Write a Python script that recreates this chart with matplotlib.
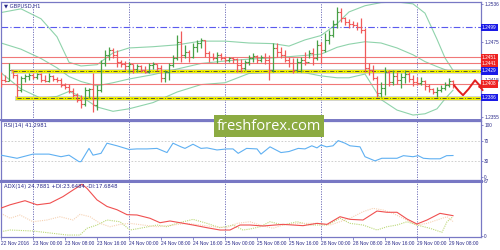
import matplotlib
matplotlib.use('Agg')
import matplotlib.pyplot as plt
from matplotlib.patches import Rectangle

# GBPUSD H1 bars, 22 Nov 2016 16:00 .. 29 Nov 2016 09:00 (open = previous close)
first_open = 1.2424
close = [1.2414, 1.2413, 1.2430, 1.2422, 1.2398, 1.2418, 1.2421, 1.2422, 1.2419, 1.2424,
         1.2414, 1.2413, 1.2421, 1.2416, 1.2414, 1.2406, 1.2403, 1.2397, 1.2390, 1.2382,
         1.2376, 1.2398, 1.2400, 1.2374, 1.2398, 1.2442, 1.2455, 1.2463, 1.2455, 1.2443,
         1.2440, 1.2437, 1.2440, 1.2432, 1.2437, 1.2430, 1.2427, 1.2439, 1.2440, 1.2434,
         1.2418, 1.2427, 1.2439, 1.2450, 1.2476, 1.2455, 1.2460, 1.2451, 1.2468, 1.2474,
         1.2479, 1.2458, 1.2451, 1.2450, 1.2455, 1.2450, 1.2447, 1.2450, 1.2448, 1.2439,
         1.2434, 1.2443, 1.2450, 1.2453, 1.2447, 1.2451, 1.2447, 1.2430, 1.2466, 1.2460,
         1.2455, 1.2447, 1.2442, 1.2430, 1.2443, 1.2447, 1.2443, 1.2458, 1.2450, 1.2471,
         1.2463, 1.2479, 1.2487, 1.2505, 1.2524, 1.2515, 1.2508, 1.2505, 1.2503, 1.2500,
         1.2495, 1.2434, 1.2430, 1.2418, 1.2393, 1.2401, 1.2427, 1.2411, 1.2421, 1.2414,
         1.2419, 1.2424, 1.2416, 1.2411, 1.2410, 1.2413, 1.2405, 1.2400, 1.2395, 1.2398,
         1.2401, 1.2406, 1.2413, 1.2408]
high = [1.2427, 1.2422, 1.2442, 1.2429, 1.2424, 1.2421, 1.2424, 1.2426, 1.2426, 1.2426,
        1.2426, 1.2422, 1.2426, 1.2422, 1.2419, 1.2418, 1.2410, 1.2408, 1.2401, 1.2393,
        1.2390, 1.2403, 1.2401, 1.2426, 1.2406, 1.2447, 1.2463, 1.2468, 1.2466, 1.2463,
        1.2447, 1.2445, 1.2443, 1.2440, 1.2440, 1.2439, 1.2437, 1.2442, 1.2443, 1.2440,
        1.2439, 1.2430, 1.2442, 1.2455, 1.2487, 1.2494, 1.2471, 1.2463, 1.2474, 1.2479,
        1.2482, 1.2479, 1.2461, 1.2458, 1.2460, 1.2458, 1.2453, 1.2451, 1.2451, 1.2450,
        1.2448, 1.2447, 1.2455, 1.2458, 1.2455, 1.2455, 1.2458, 1.2455, 1.2474, 1.2474,
        1.2468, 1.2463, 1.2451, 1.2450, 1.2450, 1.2451, 1.2460, 1.2463, 1.2466, 1.2479,
        1.2476, 1.2490, 1.2495, 1.2511, 1.2532, 1.2531, 1.2516, 1.2513, 1.2510, 1.2508,
        1.2515, 1.2498, 1.2442, 1.2439, 1.2421, 1.2411, 1.2435, 1.2430, 1.2430, 1.2427,
        1.2426, 1.2430, 1.2427, 1.2422, 1.2419, 1.2419, 1.2414, 1.2408, 1.2401, 1.2403,
        1.2406, 1.2411, 1.2418, 1.2414]
low = [1.2403, 1.2411, 1.2413, 1.2418, 1.2387, 1.2395, 1.2411, 1.2414, 1.2416, 1.2416,
       1.2411, 1.2411, 1.2411, 1.2413, 1.2411, 1.2403, 1.2400, 1.2393, 1.2387, 1.2379,
       1.2369, 1.2372, 1.2385, 1.2363, 1.2366, 1.2395, 1.2437, 1.2447, 1.2450, 1.2435,
       1.2435, 1.2430, 1.2426, 1.2426, 1.2427, 1.2427, 1.2426, 1.2426, 1.2432, 1.2429,
       1.2411, 1.2411, 1.2414, 1.2435, 1.2447, 1.2443, 1.2450, 1.2443, 1.2450, 1.2460,
       1.2466, 1.2451, 1.2443, 1.2447, 1.2442, 1.2447, 1.2443, 1.2443, 1.2442, 1.2427,
       1.2427, 1.2430, 1.2439, 1.2443, 1.2442, 1.2443, 1.2440, 1.2414, 1.2427, 1.2451,
       1.2450, 1.2443, 1.2435, 1.2426, 1.2427, 1.2427, 1.2439, 1.2450, 1.2439, 1.2447,
       1.2442, 1.2460, 1.2473, 1.2484, 1.2498, 1.2508, 1.2503, 1.2498, 1.2500, 1.2495,
       1.2490, 1.2427, 1.2422, 1.2414, 1.2387, 1.2387, 1.2390, 1.2405, 1.2406, 1.2408,
       1.2401, 1.2410, 1.2411, 1.2405, 1.2406, 1.2406, 1.2398, 1.2395, 1.2392, 1.2387,
       1.2395, 1.2398, 1.2403, 1.2401]

# Bollinger bands read at these bars
bb_bars = [0, 5, 10, 14, 17, 20, 24, 28, 32, 38, 44, 50, 56, 62, 68, 72, 76, 80, 84, 87,
           91, 95, 99, 103, 106, 109, 111, 113]
bb_upper = [1.2523, 1.2529, 1.2513, 1.2484, 1.2443, 1.2437, 1.2439, 1.2458, 1.2466, 1.2468,
            1.2471, 1.2477, 1.2477, 1.2474, 1.2473, 1.2469, 1.2479, 1.2486, 1.2505, 1.2524,
            1.2534, 1.2539, 1.2540, 1.2537, 1.2522, 1.2480, 1.2450, 1.2430]
bb_middle = [1.2474, 1.2464, 1.2449, 1.2434, 1.2420, 1.2412, 1.2405, 1.2410, 1.2416, 1.2423,
             1.2432, 1.2441, 1.2445, 1.2448, 1.2450, 1.2452, 1.2454, 1.2456, 1.2467, 1.2472,
             1.2476, 1.2474, 1.2466, 1.2455, 1.2444, 1.2436, 1.2431, 1.2427]
bb_lower = [1.2426, 1.2400, 1.2385, 1.2388, 1.2396, 1.2388, 1.2371, 1.2364, 1.2368, 1.2378,
            1.2395, 1.2407, 1.2410, 1.2425, 1.2427, 1.2427, 1.2426, 1.2421, 1.2418, 1.2418,
            1.2424, 1.2383, 1.2366, 1.2358, 1.2360, 1.2368, 1.2384, 1.2398]

# horizontal levels
blue_level = 1.2499
red_levels = [1.2451, 1.2441, 1.2408]
yellow_levels = [1.2429, 1.2386]
yellow_start = [3, 4]

# forecast sketch
fc_bars = [113.25, 114.4, 115.5, 116.9, 118.5, 119.5, 120.4]
fc_price = [1.2406, 1.2397, 1.2390, 1.2400, 1.2414, 1.2407, 1.2398]

# RSI(14)
rsi_bars = [0, 4, 8, 12, 15, 17, 19.5, 20, 22, 23, 25, 26.5, 29, 32, 34, 36.5, 39, 41.5, 43, 45,
            46, 48, 50, 51.5, 54, 56.5, 58, 59.3, 61.4, 64, 65, 67.25, 70, 72, 74.3, 76, 77.7,
            79, 80, 81.4, 83, 84.3, 86, 87.25, 89.75, 91, 93.5, 95.2, 99, 100.6, 103, 104.3,
            105.6, 107.25, 109.75, 111.4, 113]
rsi_vals = [42, 36, 44, 44, 39, 42, 29.5, 29.5, 55, 42, 45.5, 65, 60, 53, 54, 54, 55, 47, 65, 58,
            55, 63, 55, 56, 52, 54, 54, 45.5, 55, 54, 44, 58, 47, 49, 55, 54, 60, 56, 61.5, 58,
            60, 70, 65, 60, 58, 39, 31, 36, 36, 41, 39, 41, 36, 35, 35, 41, 41.3]

# ADX(14), +DI, -DI
adx_bars = [0, 2.25, 6, 9, 12.25, 15.5, 18, 20.25, 21.5, 24, 26.5, 29, 31.5, 34, 37.25, 39.75,
            42.25, 44.75, 48, 51.5, 54.75, 57.25, 59.75, 62.25, 65.5, 70.5, 75.5, 79, 81.5,
            84.75, 87.25, 90.5, 94, 96.5, 99, 101.5, 104, 106.5, 109.75, 113]
adx_vals = [34, 38, 43, 38, 40, 48, 56, 63, 58, 44, 36, 32, 26, 25.6, 21.6, 16.2, 18.3, 16.2,
            13.4, 10.1, 7.3, 7.3, 13.4, 13.4, 12.2, 14.2, 12.6, 15.4, 14.2, 23.5, 20.3, 19.5,
            30.4, 28.9, 28.9, 20.7, 14.6, 19.5, 27.6, 24.8]
pdi_bars = [0, 2.25, 8, 12.25, 16.5, 19.75, 21.5, 24, 26.5, 29.75, 32.25, 34.75, 39, 41.5, 44,
            48, 51.5, 54.75, 58, 60.5, 62.25, 64.75, 67.25, 70.5, 74, 77.25, 81.5, 84.75, 87.25,
            90.5, 94, 96.5, 99, 101.5, 104, 107.25, 110.25, 111.5, 113]
pdi_vals = [5.3, 7.3, 6.1, 3.7, 1.2, 1.2, 9.4, 13.4, 19.5, 17.4, 7.3, 9.4, 13.4, 11.3, 15.4,
            20.3, 15.4, 10.1, 13.4, 7.3, 8.5, 11.3, 17.4, 13.4, 17.4, 13.4, 13.4, 21.6, 15.4,
            13.4, 7.3, 11.3, 13.4, 17.4, 13.4, 9.4, 4.5, 17.4, 23.6]
mdi_bars = [0, 2.25, 4.75, 8, 11.5, 14.75, 18, 19.75, 22.25, 24.75, 27.25, 29.75, 32.25, 35.5,
            39, 43, 46.5, 49.75, 53, 56.5, 59, 62.25, 64.75, 68, 70.5, 74.75, 79, 82.25, 84.75,
            87.25, 90.5, 93, 95.5, 98, 100.5, 104, 106.5, 109, 111.5, 113]
mdi_vals = [27.6, 21.6, 25.6, 17.4, 19.5, 23.5, 19.5, 26.4, 23.5, 15.4, 11.3, 14.2, 15.4, 13.4,
            11.3, 13.4, 15.4, 13.4, 11.3, 10.1, 15.4, 17.4, 13.4, 9.4, 13.4, 15.4, 15.4, 13.4,
            17.4, 21.6, 29.6, 33.7, 31.7, 27.6, 21.6, 13.4, 15.4, 19.5, 23.5, 17.7]

time_labels = ['22 Nov 2016', '23 Nov 00:00', '23 Nov 08:00', '23 Nov 16:00', '24 Nov 00:00',
               '24 Nov 08:00', '24 Nov 16:00', '25 Nov 00:00', '25 Nov 08:00', '25 Nov 16:00',
               '28 Nov 00:00', '28 Nov 08:00', '28 Nov 16:00', '29 Nov 00:00', '29 Nov 08:00']
day_starts = [8, 32, 56, 80, 104]
# right-hand price scale; 1.2505, 1.2445 and 1.2385 sit under the level tags
price_ticks = [1.2355, 1.2385, 1.2415, 1.2445, 1.2475, 1.2505, 1.2536]
hidden_ticks = [1.2385, 1.2445, 1.2505]

edge = '#7878c4'
txt = '#2a2a8a'
up_col = '#47a047'
down_col = '#f05a5a'
small = 'Liberation Sans'

plt.rcParams['font.family'] = 'DejaVu Sans'
fig = plt.figure(figsize=(5, 2.5), dpi=100)
W, H = 500, 250


def frame(x0, y0, x1, y1):
    return [x0 / W, 1 - y1 / H, (x1 - x0) / W, (y1 - y0) / H]


ax = fig.add_axes(frame(1, 2, 481, 120))
ax_rsi = fig.add_axes(frame(1, 121, 481, 180), sharex=ax)
ax_adx = fig.add_axes(frame(1, 181, 481, 237), sharex=ax)
ax.set_xlim(0, 120)

for a in (ax, ax_rsi, ax_adx):
    for s in a.spines.values():
        s.set_color(edge)
        s.set_linewidth(0.9)
    a.yaxis.tick_right()
    a.tick_params(axis='y', labelsize=3.4, labelcolor=txt, color=edge, length=1.5, width=0.6,
                  pad=0.8, labelfontfamily=small)
    a.tick_params(axis='x', bottom=False, labelbottom=False)
    for d in day_starts:
        a.axvline(d, color='#6464b4', lw=0.6, ls=(0, (1.5, 1.5)), zorder=1)
ax.spines['bottom'].set_linewidth(1.4)
ax_adx.spines['top'].set_linewidth(2.2)

# ---- main panel
ax.set_ylim(1.2350, 1.2540)
ax.set_yticks(price_ticks)
ax.set_yticklabels(['' if p in hidden_ticks else f'{p:.4f}' for p in price_ticks])

ax.plot(bb_bars, bb_upper, color='#8fd3ab', lw=0.8, zorder=2)
ax.plot(bb_bars, bb_middle, color='#8fd3ab', lw=0.8, zorder=2)
ax.plot(bb_bars, bb_lower, color='#8fd3ab', lw=0.8, zorder=2)

ax.axhline(blue_level, color='#5a5aee', lw=0.8, ls=(0, (6, 2, 1, 2)), zorder=2)
for lv in red_levels:
    ax.axhline(lv, color='#f07878', lw=0.8, zorder=2)
for lv, st in zip(yellow_levels, yellow_start):
    ax.plot([st, 120], [lv, lv], color='#a0a0a0', lw=3.6, alpha=0.45, zorder=2)
    ax.plot([st, 120], [lv, lv], color='#f2f200', lw=2.2, zorder=3)
    ax.plot([st, 120], [lv, lv], color='#404040', lw=0.6, ls=(0, (5, 2, 1, 2)), zorder=3)

opens = [first_open] + close[:-1]
for i in range(len(close)):
    o, c = opens[i], close[i]
    col = up_col if c > o else (down_col if c < o else '#303030')
    ax.vlines(i, low[i], high[i], color=col, lw=0.9, zorder=4)
    ax.hlines(o, i - 0.45, i, color=col, lw=0.8, zorder=4)
    ax.hlines(c, i, i + 0.45, color=col, lw=0.8, zorder=4)

ax.plot(fc_bars, fc_price, color='#e22020', lw=1.4, zorder=6, clip_on=False,
        solid_capstyle='round')
ax.annotate('', xy=(fc_bars[-1] + 0.3, fc_price[-1] - 0.0003),
            xytext=(fc_bars[-2], fc_price[-2]),
            arrowprops=dict(arrowstyle='-|>', color='#e22020', lw=1.0, mutation_scale=5),
            annotation_clip=False, zorder=6)


def price_tag(value, color):
    ax.text(1.002, value, f'{value:.4f}', transform=ax.get_yaxis_transform(), fontsize=3.4,
            family=small, color='white', va='center', ha='left', clip_on=False, zorder=5,
            bbox=dict(boxstyle='square,pad=0.25', fc=color, ec='none'))


price_tag(blue_level, '#1a1ae6')
for lv in red_levels:
    price_tag(lv, '#ee2222')
for lv in yellow_levels:
    price_tag(lv, '#1a1ae6')

ax.text(0.006, 0.985, '\u25bc GBPUSD,H1', transform=ax.transAxes, va='top', ha='left',
        fontsize=3.8, color=txt)

# ---- RSI panel
ax_rsi.set_ylim(-5.8, 107.7)
ax_rsi.set_yticks([0, 30, 70, 100])
for lv in (30, 70):
    ax_rsi.axhline(lv, color='#c8c8c8', lw=0.6, ls=(0, (2, 2)), zorder=1)
ax_rsi.plot(rsi_bars, rsi_vals, color='#5fb0f2', lw=0.8, zorder=3)
ax_rsi.text(0.006, 0.97, 'RSI(14) 41.2981', transform=ax_rsi.transAxes, va='top', ha='left',
            fontsize=3.8, color=txt)

# ---- ADX panel
ax_adx.set_ylim(-1.2, 67)
ax_adx.set_yticks([0, 67])
ax_adx.plot(pdi_bars, pdi_vals, color='#bcd878', lw=0.8, ls=(0, (1, 1)), zorder=2)
ax_adx.plot(mdi_bars, mdi_vals, color='#f6d2b4', lw=0.8, ls=(0, (1, 1)), zorder=2)
ax_adx.plot(adx_bars, adx_vals, color='#f05050', lw=0.8, zorder=3)
ax_adx.text(0.006, 0.94, 'ADX(14) 24.7881 +DI:23.6484 -DI:17.6848', transform=ax_adx.transAxes,
            va='top', ha='left', fontsize=3.8, color=txt)

ax_adx.set_xticks(range(0, 8 * len(time_labels), 8))
ax_adx.set_xticklabels(time_labels)
ax_adx.tick_params(axis='x', bottom=True, labelbottom=True, labelsize=3.5, labelcolor=txt,
                   color=edge, length=2, width=0.6, pad=1, labelfontfamily=small)
for lab in ax_adx.get_xticklabels():
    lab.set_horizontalalignment('left')

# watermark
fig.add_artist(Rectangle((214 / W, 1 - 137 / H), 110 / W, 22 / H, transform=fig.transFigure,
                         facecolor='#8cab42', edgecolor='none', zorder=8))
fig.text(269 / W, 1 - 126.5 / H, 'freshforex.com', ha='center', va='center', fontsize=10.5,
         color='white', zorder=9, family='Open Sans')

fig.savefig('out.png', dpi=100)
